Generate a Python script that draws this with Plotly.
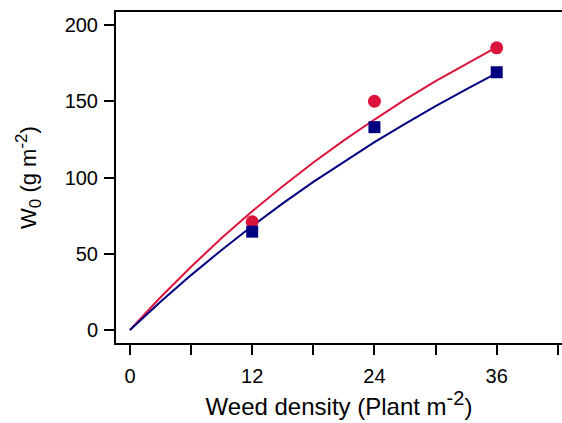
import plotly.graph_objects as go

# Observed data
density = [12, 24, 36]
w0_red = [71, 150, 185]
w0_blue = [64.5, 133, 169]

# Fitted curves
curve_x = [0, 3, 6, 9, 12, 15, 18, 21, 24, 27, 30, 33, 36]
curve_red = [0, 21.5, 41.5, 60.3, 77.9, 94.3, 109.8, 124.3, 138.0, 151.0, 163.2, 174.6, 185.5]
curve_blue = [0, 18.5, 36.0, 52.5, 68.2, 83.0, 97.1, 110.4, 123.2, 135.2, 146.8, 157.7, 168.5]

x_tickvals = [0, 6, 12, 18, 24, 30, 36, 42]
x_ticktext = ["0", "", "12", "", "24", "", "36", ""]
y_tickvals = [0, 50, 100, 150, 200]

RED = "#DC143C"
BLUE = "#000080"
FONT = "Liberation Sans, Arial, sans-serif"

fig = go.Figure()
fig.add_trace(go.Scatter(x=curve_x, y=curve_red, mode="lines",
                         line=dict(color=RED, width=2), showlegend=False))
fig.add_trace(go.Scatter(x=curve_x, y=curve_blue, mode="lines",
                         line=dict(color=BLUE, width=2), showlegend=False))
fig.add_trace(go.Scatter(x=density, y=w0_red, mode="markers",
                         marker=dict(color=RED, size=13, symbol="circle"), showlegend=False))
fig.add_trace(go.Scatter(x=density, y=w0_blue, mode="markers",
                         marker=dict(color=BLUE, size=12, symbol="square"), showlegend=False))

X_SUP = '<sup><span style="font-size:20px">-2</span></sup>'
Y_SUP = '<sup><span style="font-size:17px">-2</span></sup>'
Y_SUB = '<sub><span style="font-size:17px">0</span></sub>'

fig.update_layout(
    width=562, height=423,
    margin=dict(l=116, r=0, t=12, b=80),
    paper_bgcolor="white", plot_bgcolor="white",
    font=dict(family=FONT, size=20, color="black"),
    xaxis=dict(
        range=[-1.37, 42.41], tickvals=x_tickvals, ticktext=x_ticktext,
        ticks="outside", ticklen=10, tickwidth=2, tickcolor="black",
        ticklabelstandoff=4,
        showline=True, linecolor="black", linewidth=2, mirror=True,
        showgrid=False, zeroline=False,
        title=dict(text="Weed density (Plant m" + X_SUP + ")", font=dict(size=24), standoff=10),
    ),
    yaxis=dict(
        range=[-8.5, 208.5], tickvals=y_tickvals,
        ticks="outside", ticklen=10, tickwidth=2, tickcolor="black",
        ticklabelstandoff=2,
        showline=True, linecolor="black", linewidth=2,
        showgrid=False, zeroline=False,
        title=dict(text="W" + Y_SUB + " (g m" + Y_SUP + ")", font=dict(size=22), standoff=22),
    ),
)

fig.write_html("out.html")
